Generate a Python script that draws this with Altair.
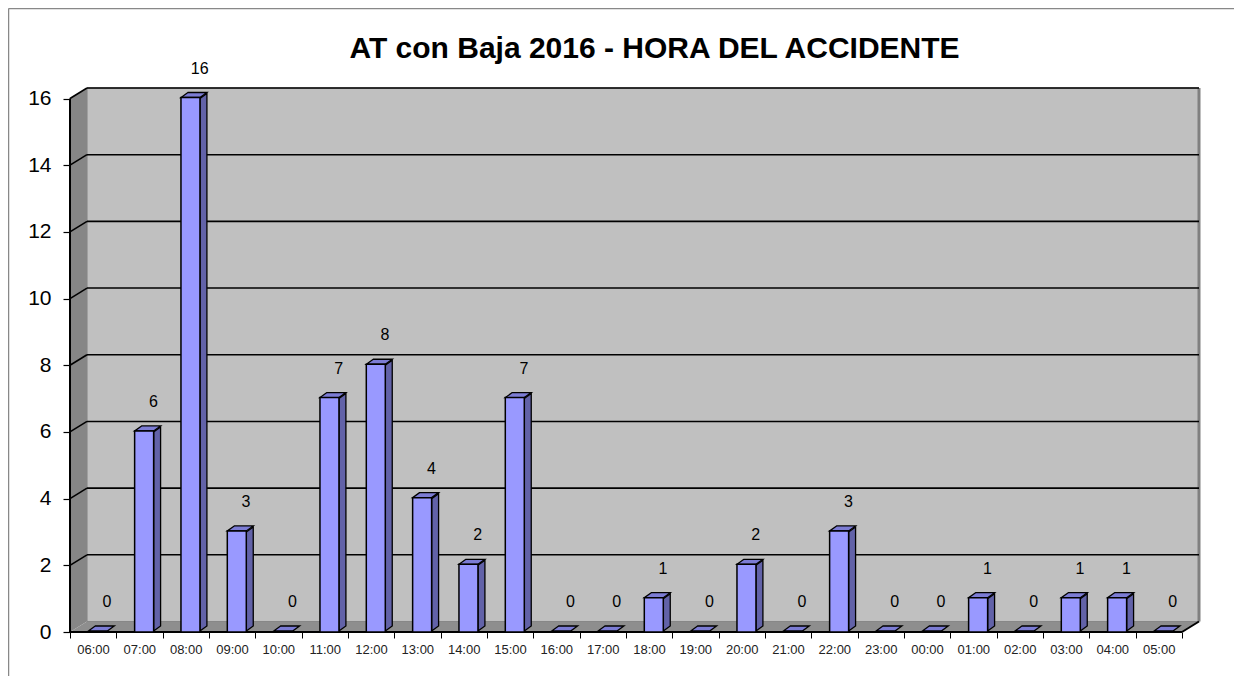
import altair as alt
import pandas as pd

# ---- data ----
hours = ["06:00", "07:00", "08:00", "09:00", "10:00", "11:00", "12:00", "13:00",
         "14:00", "15:00", "16:00", "17:00", "18:00", "19:00", "20:00", "21:00",
         "22:00", "23:00", "00:00", "01:00", "02:00", "03:00", "04:00", "05:00"]
counts = [0, 6, 16, 3, 0, 7, 8, 4, 2, 7, 0, 0, 1, 0, 2, 0, 3, 0, 0, 1, 0, 1, 1, 0]
y_ticks = [0, 2, 4, 6, 8, 10, 12, 14, 16]
title_text = "AT con Baja 2016 - HORA DEL ACCIDENTE"

# ---- 3D geometry (in scale units) ----
N = len(hours)
YTOP = max(y_ticks)
DX = 0.367      # wall depth along x (category units)
DY = 0.315      # wall depth along y (value units)
XMAX = N + DX
YMAX = YTOP + DY
BL, BR = 0.395, 0.805   # bar front face within category
BDX, BDY = 0.15, 0.15   # bar depth

FONT = "Liberation Sans"
W, H = 1129, 544

xs = alt.Scale(domain=[0, XMAX], nice=False, zero=False)
ys = alt.Scale(domain=[0, YMAX], nice=False, zero=False)

label_arr = "[" + ",".join("'%s'" % h for h in hours) + "]"

XAX = alt.Axis(values=list(range(N + 1)), grid=False, domain=False,
               tickColor="#000", tickSize=6, tickWidth=1,
               labelExpr="datum.value < %d ? %s[datum.value] : ''" % (N, label_arr),
               labelOffset=23, labelPadding=5, labelFont=FONT, labelFontSize=13,
               labelColor="#222", labelFlush=False, labelOverlap=False, title=None)
YAX = alt.Axis(values=y_ticks, grid=False, domain=False,
               tickColor="#000", tickSize=7, tickWidth=1.2,
               labelPadding=12, labelFont=FONT, labelFontSize=21,
               labelColor="#000", title=None)


def X(f, **kw):
    return alt.X(f, scale=xs, axis=XAX, title=None, **kw)


def Y(f, **kw):
    return alt.Y(f, scale=ys, axis=YAX, title=None, **kw)


# back wall
wall_df = pd.DataFrame([{"x": DX, "x2": XMAX, "y": DY, "y2": YMAX}])
back_wall = alt.Chart(wall_df).mark_rect(fill="#C0C0C0", stroke="#808080", strokeWidth=1).encode(
    x=X("x:Q"), x2="x2:Q", y=Y("y:Q"), y2="y2:Q",
)

# left wall
lw_df = pd.DataFrame([{"x": 0, "y": 0, "y2": YTOP}, {"x": DX, "y": DY, "y2": YTOP + DY}])
left_wall = alt.Chart(lw_df).mark_area(orient="vertical", fill="#868686").encode(
    x=X("x:Q"), y=Y("y:Q", stack=False), y2="y2:Q",
)

# floor
fl_df = pd.DataFrame([{"y": 0, "x": 0, "x2": N}, {"y": DY, "x": DX, "x2": N + DX}])
floor = alt.Chart(fl_df).mark_area(orient="horizontal", fill="#8E8E8E").encode(
    y=Y("y:Q"), x=X("x:Q", stack=False), x2="x2:Q",
)

# gridlines (back wall + slanted on left wall)
grid_rows = []
for k in y_ticks:
    if k == 0:
        continue
    grid_rows.append({"x": 0, "y": k, "x2": DX, "y2": k + DY})
    grid_rows.append({"x": DX, "y": k + DY, "x2": XMAX, "y2": k + DY})
grid = alt.Chart(pd.DataFrame(grid_rows)).mark_rule(color="#000", strokeWidth=1.6).encode(
    x=X("x:Q"), x2="x2:Q", y=Y("y:Q"), y2="y2:Q",
)

# right wall edge
rw_df = pd.DataFrame([{"x": XMAX, "y": DY, "x2": XMAX, "y2": YTOP + DY}])
right_edge = alt.Chart(rw_df).mark_rule(color="#808080", strokeWidth=3).encode(
    x=X("x:Q"), x2="x2:Q", y=Y("y:Q"), y2="y2:Q",
)

# front edges (axis lines)
edge_df = pd.DataFrame([
    {"x": 0, "y": 0, "x2": 0, "y2": YTOP},
    {"x": 0, "y": 0, "x2": N, "y2": 0},
    {"x": N, "y": 0, "x2": N + DX, "y2": DY},
])
edges = alt.Chart(edge_df).mark_rule(color="#000", strokeWidth=2).encode(
    x=X("x:Q"), x2="x2:Q", y=Y("y:Q"), y2="y2:Q",
)

# bars
front_rows, side_rows, top_rows, lab_rows = [], [], [], []
for i, (h, v) in enumerate(zip(hours, counts)):
    xl, xr = i + BL, i + BR
    if v > 0:
        front_rows.append({"i": i, "xl": xl, "xr": xr, "v": v})
        side_rows.append({"i": i, "x": xr, "y": 0, "y2": v})
        side_rows.append({"i": i, "x": xr + BDX, "y": BDY, "y2": v + BDY})
    top_rows.append({"i": i, "y": v, "x": xl, "x2": xr})
    top_rows.append({"i": i, "y": v + BDY, "x": xl + BDX, "x2": xr + BDX})
    lab_rows.append({"x": i + 0.8, "v": v, "t": str(v)})

side = alt.Chart(pd.DataFrame(side_rows)).mark_area(
    orient="vertical", fill="#6262A8", stroke="#000", strokeWidth=1.3, strokeJoin="miter", yOffset=-1
).encode(
    x=X("x:Q"), y=Y("y:Q", stack=False), y2="y2:Q", detail="i:N",
)
top = alt.Chart(pd.DataFrame(top_rows)).mark_area(
    orient="horizontal", fill="#7C7CD4", stroke="#000", strokeWidth=1.3, strokeJoin="miter", yOffset=-1
).encode(
    y=Y("y:Q"), x=X("x:Q", stack=False), x2="x2:Q", detail="i:N",
)
front = alt.Chart(pd.DataFrame(front_rows)).mark_rect(
    fill="#9999FF", stroke="#000", strokeWidth=1.5, yOffset=-1
).encode(
    x=X("xl:Q"), x2="xr:Q", y=Y("v:Q"), y2=alt.Y2(datum=0),
)

labels = alt.Chart(pd.DataFrame(lab_rows)).mark_text(
    font=FONT, fontSize=16, color="#000", baseline="middle", align="center", dy=-30
).encode(
    x=X("x:Q"), y=Y("v:Q"), text="t:N",
)

# outer frame of the chart object
frame_top = alt.Chart(pd.DataFrame([{"a": 0}])).mark_rule(color="#888", strokeWidth=1.5).encode(
    x=alt.value(-61.5), x2=alt.value(1200), y=alt.value(-79.5))
frame_left = alt.Chart(pd.DataFrame([{"a": 0}])).mark_rule(color="#888", strokeWidth=1.5).encode(
    x=alt.value(-61.5), y=alt.value(-79.5), y2=alt.value(700))

chart = alt.layer(
    back_wall, left_wall, floor, right_edge, grid, edges, side, top, front, labels,
    frame_top, frame_left,
).properties(
    width=W, height=H,
    padding={"left": 62, "top": 80, "right": 35, "bottom": 44},
    autosize=alt.AutoSizeParams(type="none"),
    title=alt.Title(title_text, font=FONT, fontSize=30, fontWeight="bold", color="#000",
                    anchor="middle", dx=20, offset=0, baseline="alphabetic", dy=80),
).configure(background="white").configure_view(stroke=None)

chart.save("out.html", embed_options={"renderer": "svg", "actions": False})
